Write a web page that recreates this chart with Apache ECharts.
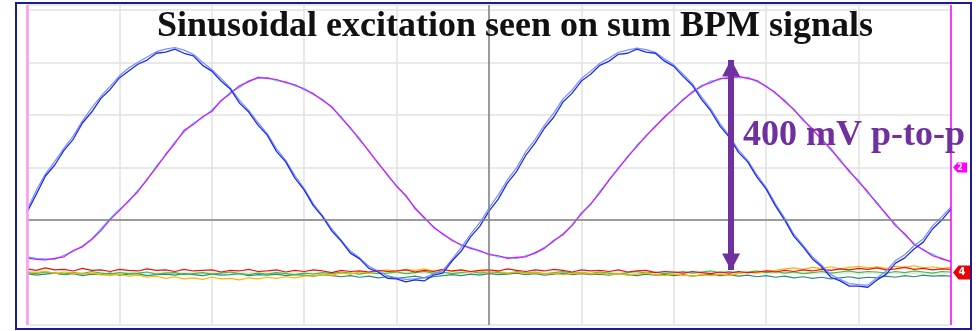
<!DOCTYPE html>
<html>
<head>
<meta charset="utf-8">
<script src="https://cdn.jsdelivr.net/npm/echarts@6/dist/echarts.min.js"></script>
<style>
  html, body { margin: 0; padding: 0; background: #ffffff; }
  #chart { width: 978px; height: 331px; }
</style>
</head>
<body>
<div id="chart"></div>
<script>
// Scope capture: 10 horizontal divisions, 100 mV per vertical division.
// Samples every 0.1 division.
const SAMPLE_STEP = 0.1;

// Sum-signal channel 1 (blue) and its persistence trace, mV
const ch1Sum = [15, 49, 84, 105, 133, 154, 185, 206, 232, 249,
  271, 284, 297, 305, 318, 320, 326, 318, 313, 295,
  284, 265, 250, 223, 206, 181, 162, 131, 111, 80,
  57, 27, 6, -21, -40, -63, -74, -92, -99, -111,
  -112, -118, -114, -116, -105, -101, -78, -59, -32, -12,
  17, 40, 71, 93, 124, 147, 175, 196, 225, 242,
  265, 278, 295, 303, 316, 318, 326, 320, 318, 303,
  293, 274, 257, 230, 208, 179, 158, 129, 111, 82,
  59, 27, 0, -31, -51, -74, -89, -109, -116, -126,
  -126, -128, -114, -103, -82, -72, -55, -42, -17, 0,
  21];
const ch1Persist = [19, 57, 88, 112, 137, 160, 189, 214, 236, 255,
  275, 290, 301, 311, 321, 326, 329, 324, 316, 301,
  287, 270, 252, 228, 209, 186, 165, 136, 114, 85,
  60, 31, 8, -17, -38, -59, -72, -88, -97, -106,
  -110, -113, -112, -110, -102, -96, -75, -52, -27, -5,
  23, 48, 77, 100, 131, 154, 181, 204, 231, 248,
  270, 284, 299, 309, 320, 324, 328, 325, 320, 307,
  296, 278, 260, 235, 212, 184, 161, 134, 114, 86,
  62, 31, 4, -27, -48, -70, -86, -104, -113, -121,
  -123, -124, -110, -97, -77, -66, -49, -36, -11, 6,
  25];

// Sum-signal channel 2 (magenta) and its persistence trace (cyan), mV
const ch2Sum = [-72, -75, -76, -73, -70, -58, -51, -37, -20, 1,
  18, 37, 54, 78, 100, 125, 146, 171, 182, 197,
  207, 228, 241, 256, 264, 272, 270, 268, 262, 258,
  249, 241, 228, 216, 195, 176, 153, 132, 108, 87,
  64, 47, 22, 5, -14, -26, -39, -47, -54, -58,
  -66, -68, -73, -71, -70, -62, -54, -39, -28, -9,
  12, 31, 52, 77, 98, 121, 140, 161, 178, 197,
  212, 230, 243, 256, 262, 270, 270, 274, 270, 266,
  254, 243, 226, 211, 190, 174, 153, 136, 113, 94,
  73, 54, 31, 12, -11, -26, -47, -56, -68, -73,
  -80];
const ch2Persist = [-70, -73, -74, -75, -67, -60, -49, -36, -17, 3,
  20, 35, 57, 76, 103, 123, 149, 168, 185, 195,
  210, 226, 244, 253, 266, 270, 272, 266, 264, 256,
  251, 239, 230, 214, 197, 174, 156, 130, 110, 85,
  66, 45, 24, 3, -12, -28, -37, -49, -52, -60,
  -64, -70, -71, -73, -68, -64, -52, -41, -26, -11,
  14, 29, 55, 75, 100, 119, 143, 159, 180, 195,
  214, 228, 245, 254, 265, 268, 273, 271, 272, 264,
  256, 241, 229, 209, 193, 171, 156, 133, 116, 91,
  76, 51, 34, 9, -8, -29, -44, -58, -65, -75,
  -78];

// Quiet channels near the -100 mV reference, mV
const ch3Red = [-93, -96, -91, -95, -94, -97, -92, -96, -95, -98,
  -94, -96, -97, -93, -96, -95, -98, -94, -97, -96,
  -95, -99, -96, -97, -94, -98, -97, -95, -99, -96,
  -98, -95, -97, -100, -96, -98, -97, -99, -96, -98,
  -97, -95, -99, -96, -98, -94, -97, -95, -98, -96,
  -95, -97, -93, -96, -98, -95, -97, -94, -96, -99,
  -95, -97, -96, -98, -95, -99, -97, -96, -100, -98,
  -99, -101, -98, -100, -102, -99, -101, -98, -100, -99,
  -97, -99, -96, -98, -95, -97, -94, -96, -93, -95,
  -92, -94, -91, -95, -93, -90, -94, -92, -95, -93,
  -94];
const ch3Orange = [-98, -100, -97, -102, -99, -101,
  -103, -101, -104, -106, -103, -107, -105,
  -109, -107, -111, -108, -112, -110, -113, -109, -112, -111, -114, -110, -112, -109, -111, -108, -110, -107,
  -106, -104, -105, -101, -103, -99, -100, -97,
  -95, -98, -94, -96, -93, -97, -95, -98, -96, -99, -97, -100,
  -98, -101, -99, -102, -100, -103, -101, -104, -102, -100, -103, -101, -104, -102, -105, -103, -101, -104, -106, -103,
  -105, -107, -104, -106, -103, -105, -102, -99, -101, -97, -96, -93,
  -91, -94, -90, -92, -89, -93, -90, -88, -91, -89, -92, -88, -90, -87, -91, -89, -92, -90];
const ch4Green = [-100, -102, -99, -101, -103, -100, -102, -98, -101, -103,
  -100, -102, -101, -99, -103, -101, -100, -104, -102, -100,
  -103, -101, -99, -102, -104, -101, -103, -100, -102, -104,
  -101, -103, -100, -102, -99, -101, -103, -100, -102, -101,
  -99, -102, -100, -98, -101, -99, -102, -100, -98, -101,
  -99, -100, -102, -98, -101, -99, -103, -100, -98, -101,
  -100, -102, -99, -101, -103, -100, -98, -101, -99, -102,
  -100, -98, -101, -99, -97, -100, -98, -101, -99, -97,
  -100, -98, -101, -99, -102, -100, -98, -101, -99, -97,
  -100, -98, -99, -101, -98, -100, -97, -99, -101, -98,
  -99];
const ch4Teal = [-102, -105, -103, -101, -104, -102, -106, -103, -104, -101,
  -105, -103, -102, -106, -104, -103, -105, -102, -104, -106,
  -103, -105, -104, -102, -106, -104, -105, -103, -106, -104,
  -105, -107, -104, -106, -108, -106, -109, -107, -110, -108,
  -111, -109, -107, -110, -108, -106, -104, -106, -103, -105,
  -102, -104, -103, -101, -104, -102, -105, -103, -101, -104,
  -102, -104, -103, -105, -102, -104, -106, -103, -105, -104,
  -106, -104, -107, -105, -103, -106, -104, -107, -105, -108,
  -106, -109, -107, -110, -108, -111, -109, -112, -110, -108,
  -111, -109, -110, -107, -109, -106, -108, -105, -107, -106,
  -107];

// Annotation: peak-to-peak excitation amplitude, mV
const P2P_LOW = -95;
const P2P_HIGH = 305;
const P2P_TIME = 7.62;
// Channel reference markers (division offsets in mV)
const CH2_REF = 100;
const CH4_REF = -100;

const TITLE = 'Sinusoidal excitation seen on sum BPM signals';
const NOTE = '400 mV p-to-p';

function pairs(arr) {
  return arr.map((v, i) => [+(i * SAMPLE_STEP).toFixed(2), v]);
}

function trace(name, arr, color, width, extra) {
  return Object.assign({
    name, type: 'line', data: pairs(arr), showSymbol: false, symbol: 'none',
    lineStyle: { color, width }, silent: true, animation: false, clip: true
  }, extra || {});
}

const tagPath = 'path://M0,5 L5,0 L16,0 L16,10 L5,10 Z';

function refTag(label, value, color, size, offsetX, fontSize) {
  return {
    silent: true, animation: false,
    symbol: tagPath, symbolSize: size, symbolOffset: [offsetX, 0],
    itemStyle: { color },
    label: { show: true, position: 'inside', formatter: label, color: '#ffffff', fontSize, fontWeight: 'bold', fontFamily: 'DejaVu Sans' },
    data: [{ coord: [10, value] }]
  };
}

const chart = echarts.init(document.getElementById('chart'), null, { renderer: 'canvas' });
chart.setOption({
  backgroundColor: '#ffffff',
  animation: false,
  grid: { left: 27, top: 5, width: 924, height: 320, containLabel: false },
  xAxis: {
    type: 'value', min: 0, max: 10, interval: 1,
    axisLine: { show: false }, axisTick: { show: false }, axisLabel: { show: false },
    splitLine: { show: true, lineStyle: { color: '#e2e2e2', width: 1.5 } }
  },
  yAxis: {
    type: 'value', min: -200, max: 410, interval: 100,
    axisLine: { show: false }, axisTick: { show: false }, axisLabel: { show: false },
    splitLine: { show: true, lineStyle: { color: '#e2e2e2', width: 1.5 } }
  },
  graphic: [
    {
      type: 'rect', silent: true, z: 100,
      shape: { x: 16, y: 3, width: 955, height: 326 },
      style: { fill: 'none', stroke: '#1c1c8e', lineWidth: 2 }
    },
    {
      type: 'text', silent: true, z: 110, x: 515, y: 27,
      style: {
        text: TITLE, fill: '#111111', align: 'center', verticalAlign: 'middle',
        font: 'bold 36px "Liberation Serif", "DejaVu Serif", serif'
      }
    },
    {
      type: 'text', silent: true, z: 110, x: 743, y: 136,
      style: {
        text: NOTE, fill: '#7030a0', align: 'left', verticalAlign: 'middle',
        font: 'bold 36px "Liberation Serif", "DejaVu Serif", serif'
      }
    }
  ],
  series: [
    trace('ch4 teal', ch4Teal, '#2e8b7e', 1.2),
    trace('ch4 green', ch4Green, '#39c63a', 1.2),
    trace('ch3 orange', ch3Orange, '#ffb400', 1.2),
    trace('ch3 red', ch3Red, '#ee1111', 1.2, {
      markPoint: refTag('4', CH4_REF, '#ee0000', [18, 14], 11, 10)
    }),
    trace('ch2 persist', ch2Persist, '#19e0f0', 1.3),
    trace('ch2 sum', ch2Sum, '#ff00ff', 1.2, {
      markPoint: refTag('2', CH2_REF, '#ff00ff', [14, 10], 9, 8)
    }),
    trace('ch1 persist', ch1Persist, '#7a8cff', 1.2),
    trace('ch1 sum', ch1Sum, '#1a2ee6', 1.3, {
      markLine: {
        silent: true, animation: false, symbol: 'none', label: { show: false },
        data: [
          { yAxis: 0, lineStyle: { color: '#808080', width: 1.5, type: 'solid' } },
          { xAxis: 5, lineStyle: { color: '#808080', width: 1.5, type: 'solid' } },
          { xAxis: 0, lineStyle: { color: '#ff99ee', width: 2.5, type: 'solid' } },
          { xAxis: 10, lineStyle: { color: '#ff00ff', width: 1.5, type: 'solid' } }
        ]
      }
    }),
    {
      name: 'p2p arrow', type: 'line', data: [], silent: true,
      markLine: {
        silent: true, animation: false, z: 20,
        symbol: ['triangle', 'triangle'], symbolSize: [18, 17],
        symbolOffset: [[0, 8], [0, 8]],
        label: { show: false },
        lineStyle: { color: '#7030a0', width: 6, type: 'solid' },
        data: [[{ coord: [P2P_TIME, P2P_LOW] }, { coord: [P2P_TIME, P2P_HIGH] }]]
      }
    }
  ]
});
</script>
</body>
</html>
